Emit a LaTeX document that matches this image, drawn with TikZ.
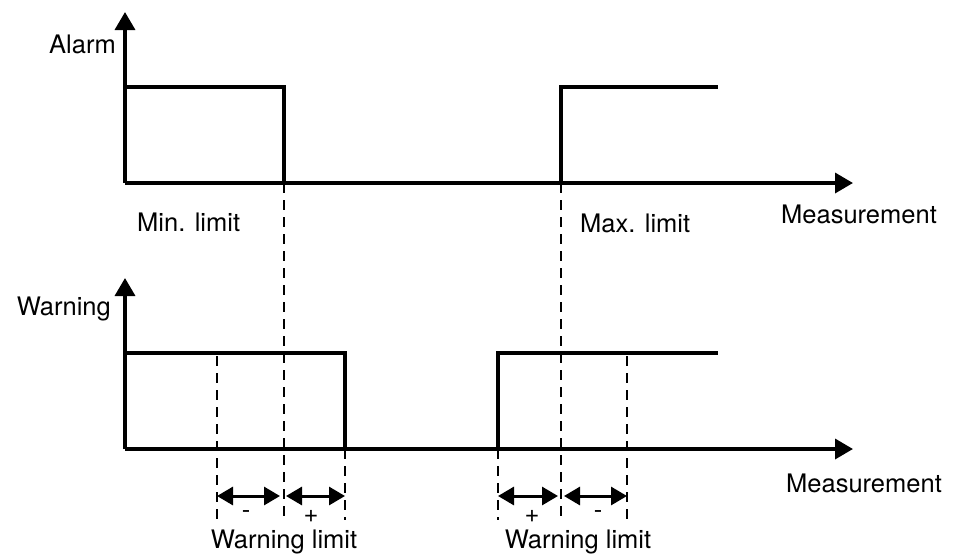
\documentclass[tikz,border=0pt]{standalone}
\usepackage{fontspec}
\setmainfont{TeX Gyre Heros}
\usetikzlibrary{arrows.meta}

\begin{document}
\begin{tikzpicture}[x=1pt,y=-1pt,
  axis/.style={line width=3.5pt,-{Triangle[length=18pt,width=20pt]}},
  signal/.style={line width=4.5pt,line join=miter},
  guide/.style={line width=1.6pt,dash pattern=on 10pt off 7pt},
  span/.style={line width=3pt,{Triangle[length=16pt,width=18pt]}-{Triangle[length=16pt,width=18pt]}},
  lbl/.style={font=\fontsize{25.5}{30}\selectfont,inner sep=0pt}]
  \useasboundingbox (0,0) rectangle (959,555);
  % alarm chart
  \coordinate (alarm-o) at (125,183);
  \coordinate (alarm-y) at (125,12);
  \coordinate (alarm-x) at (853,183);
  \draw[axis] (alarm-o) -- (alarm-y);
  \draw[axis] (alarm-o) -- (alarm-x);
  \draw[signal] (125,87) -- (284,87) -- (284,183);
  \draw[signal] (561,183) -- (561,87) -- (718,87);
  \node[lbl,anchor=base east] (alarm) at (116,53) {Alarm};
  \node[lbl,anchor=base west] (min-limit) at (137,231) {Min. limit};
  \node[lbl,anchor=base west] (max-limit) at (580,232) {Max. limit};
  \node[lbl,anchor=base west] (meas-alarm) at (781,223) {Measurement};
  % warning chart
  \coordinate (warn-o) at (125,449);
  \coordinate (warn-y) at (125,278);
  \coordinate (warn-x) at (853,449);
  \draw[axis] (warn-o) -- (warn-y);
  \draw[axis] (warn-o) -- (warn-x);
  \draw[signal] (125,353) -- (345,353) -- (345,449);
  \draw[signal] (498,449) -- (498,353) -- (718,353);
  \node[lbl,anchor=base east] (warning) at (111,315) {Warning};
  \node[lbl,anchor=base west] (meas-warn) at (786,492) {Measurement};
  % limit guides
  \draw[guide] (284,183) -- (284,520);
  \draw[guide] (561,183) -- (561,520);
  \draw[guide] (217,356) -- (217,520);
  \draw[guide] (345,449) -- (345,520);
  \draw[guide] (498,449) -- (498,520);
  \draw[guide] (627,356) -- (627,520);
  % hysteresis spans
  \coordinate (s1) at (217,496);
  \coordinate (s2) at (280,496);
  \coordinate (s3) at (286,496);
  \coordinate (s4) at (345,496);
  \coordinate (s5) at (498,496);
  \coordinate (s6) at (558,496);
  \coordinate (s7) at (564,496);
  \coordinate (s8) at (627,496);
  \draw[span] (s1) -- (s2);
  \draw[span] (s3) -- (s4);
  \draw[span] (s5) -- (s6);
  \draw[span] (s7) -- (s8);
  \node[lbl] (minus-l) at (246,515) {-};
  \node[lbl] (plus-l) at (311,516) {+};
  \node[lbl] (plus-r) at (532,516) {+};
  \node[lbl] (minus-r) at (598,515) {-};
  \node[lbl,anchor=base] (wl-left) at (284,548) {Warning limit};
  \node[lbl,anchor=base] (wl-right) at (578,548) {Warning limit};
\end{tikzpicture}
\end{document}
